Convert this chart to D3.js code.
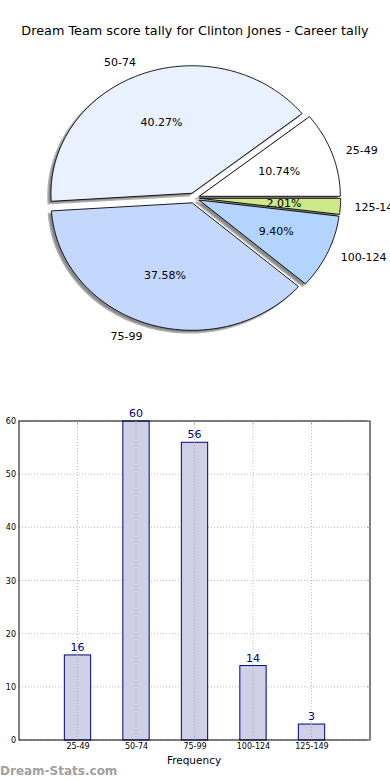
<!DOCTYPE html>
<html><head><meta charset="utf-8">
<script src="https://cdn.jsdelivr.net/npm/d3@7/dist/d3.min.js"></script>
<style>
html,body{margin:0;padding:0;background:#fff;}
svg{display:block;font-family:"DejaVu Sans",sans-serif;}
</style></head>
<body><svg id="c" width="390" height="780"></svg>
<script>
const title = "Dream Team score tally for Clinton Jones - Career tally";
const categories = ["25-49","50-74","75-99","100-124","125-149"];
const counts = [16, 60, 56, 14, 3];
const sliceColors = ["#ffffff","#e9f1fe","#c4d8fe","#b2d4fe","#cde98a"];
const yTicks = [0,10,20,30,40,50,60];
const xLabel = "Frequency";
const watermark = "Dream-Stats.com";

const svg = d3.select("#c");
svg.append("text").attr("x",195).attr("y",35).attr("text-anchor","middle")
  .attr("font-size",12.8).attr("fill","#000").text(title);

// ---- Pie ----
const cx = 194, cy = 198, rx = 141, ry = 127.5, explode = 0.04;
const total = d3.sum(counts);
const pie = d3.pie().sort(null).startAngle(0).endAngle(2*Math.PI).value(d=>d);
const arcs = pie(counts);
function pt(a, r, ox, oy){ return [ox + r*rx*Math.cos(a), oy - r*ry*Math.sin(a)]; }
function slicePath(a0, a1, ox, oy){
  const n = Math.max(8, Math.ceil((a1-a0)/(Math.PI/180)));
  const p = d3.path();
  p.moveTo(ox, oy);
  for(let i=0;i<=n;i++){ const a=a0+(a1-a0)*i/n; const q=pt(a,1,ox,oy); p.lineTo(q[0],q[1]); }
  p.closePath();
  return p.toString();
}
const gPie = svg.append("g");
const sl = arcs.map((d,i)=>{
  const a0 = d.startAngle, a1 = d.endAngle, mid=(a0+a1)/2;
  const ox = cx + explode*rx*Math.cos(mid), oy = cy - explode*ry*Math.sin(mid);
  return {a0,a1,mid,ox,oy,i,v:d.value};
});
sl.forEach(s=>{
  gPie.append("path").attr("d", slicePath(s.a0,s.a1,s.ox-3,s.oy+2.5))
    .attr("fill","#8a8a8a").attr("stroke","#b0b0b0").attr("stroke-width",1.5);
});
sl.forEach(s=>{
  gPie.append("path").attr("d", slicePath(s.a0,s.a1,s.ox,s.oy))
    .attr("fill",sliceColors[s.i]).attr("stroke","#000").attr("stroke-width",0.9)
    .attr("stroke-linejoin","round");
});
sl.forEach(s=>{
  const lp = [cx + (1.1+explode)*rx*Math.cos(s.mid), cy - (1.1+explode)*ry*Math.sin(s.mid)];
  gPie.append("text").attr("x",lp[0]).attr("y",lp[1]).attr("dy","0.35em")
    .attr("text-anchor", Math.cos(s.mid) < 0 ? "end" : "start")
    .attr("font-size",11).attr("fill","#000").text(categories[s.i]);
  const pp = [cx + (0.6+explode)*rx*Math.cos(s.mid), cy - (0.6+explode)*ry*Math.sin(s.mid)];
  gPie.append("text").attr("x",pp[0]).attr("y",pp[1]).attr("dy","0.35em")
    .attr("text-anchor","middle").attr("font-size",11).attr("fill","#000")
    .text((s.v/total*100).toFixed(2)+"%");
});

// ---- Bar chart ----
const L=19, R=370, T=421, B=740;
const x = d3.scaleLinear().domain([-1,5]).range([L,R]);
const y = d3.scaleLinear().domain([0,60]).range([B,T]);
const g = svg.append("g");
yTicks.forEach(t=>{
  g.append("line").attr("x1",L).attr("x2",R).attr("y1",y(t)).attr("y2",y(t))
    .attr("stroke","#bdbdbd").attr("stroke-width",1).attr("stroke-dasharray","1,2");
});
categories.forEach((c,i)=>{
  g.append("line").attr("x1",x(i)).attr("x2",x(i)).attr("y1",T).attr("y2",B)
    .attr("stroke","#bdbdbd").attr("stroke-width",1).attr("stroke-dasharray","1,2");
});
const bw = x(0.45)-x(0);
g.selectAll("rect.bar").data(counts).join("rect").attr("class","bar")
  .attr("x",(d,i)=>x(i)-bw/2).attr("width",bw)
  .attr("y",d=>y(d)).attr("height",d=>B-y(d))
  .attr("fill","#cfcfe6").attr("stroke","#000080").attr("stroke-width",1);
categories.forEach((c,i)=>{
  g.append("line").attr("x1",x(i)).attr("x2",x(i)).attr("y1",y(counts[i])).attr("y2",B)
    .attr("stroke","#a8a8b8").attr("stroke-width",1).attr("stroke-dasharray","1,2");
});
g.selectAll("text.val").data(counts).join("text").attr("class","val")
  .attr("x",(d,i)=>x(i)).attr("y",d=>y(d)-4).attr("text-anchor","middle")
  .attr("font-size",11).attr("fill","#000080").text(d=>d);
g.append("rect").attr("x",L).attr("y",T).attr("width",R-L).attr("height",B-T)
  .attr("fill","none").attr("stroke","#000").attr("stroke-width",1);
const yAxis = d3.axisLeft(y).tickValues(yTicks).tickSize(0).tickPadding(3);
const ya = svg.append("g").attr("transform",`translate(${L},0)`).call(yAxis);
ya.select(".domain").remove();
ya.selectAll("text").attr("font-size",8).attr("font-family","DejaVu Sans").attr("fill","#000");
const xAxis = d3.axisBottom(x).tickValues(d3.range(categories.length)).tickFormat(i=>categories[i]).tickSize(0).tickPadding(3);
const xa = svg.append("g").attr("transform",`translate(0,${B})`).call(xAxis);
xa.select(".domain").remove();
xa.selectAll("text").attr("font-size",8).attr("font-family","DejaVu Sans").attr("fill","#000");
yTicks.forEach(t=>{
  g.append("line").attr("x1",R-3).attr("x2",R).attr("y1",y(t)).attr("y2",y(t)).attr("stroke","#aaa");
});
categories.forEach((c,i)=>{
  g.append("line").attr("x1",x(i)).attr("x2",x(i)).attr("y1",T).attr("y2",T+3).attr("stroke","#aaa");
});
svg.append("text").attr("x",194).attr("y",764).attr("text-anchor","middle")
  .attr("font-size",10.5).attr("fill","#000").text(xLabel);
svg.append("text").attr("x",0).attr("y",775).attr("font-size",12).attr("font-weight","bold")
  .attr("fill","#a0a0a0").text(watermark);
</script></body></html>
